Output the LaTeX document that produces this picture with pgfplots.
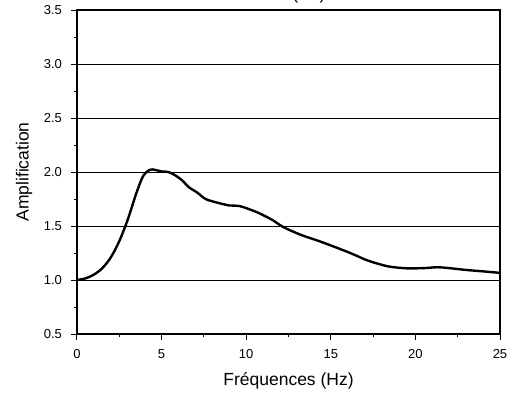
\documentclass[border=0pt]{standalone}
\usepackage{fontspec}
\setmainfont{Liberation Sans}
\usepackage{pgfplots}
\pgfplotsset{compat=1.18}
\begin{document}
\begin{tikzpicture}
\begin{axis}[
  at={(0,0)}, anchor=south west,
  scale only axis, width=423pt, height=324pt,
  xmin=0, xmax=25, ymin=0.5, ymax=3.5,
  xtick={0,5,...,25}, ytick={0.5,1.0,...,3.5},
  minor x tick num=1, minor y tick num=1,
  xtick pos=lower, ytick pos=left,
  tick align=outside,
  major tick length=6pt, minor tick length=3pt,
  every tick/.style={black, line width=1pt},
  axis line style={line width=1.2pt},
  ymajorgrids, grid style={black, line width=0.8pt},
  /pgf/number format/assume math mode=true,
  tick label style={font=\fontsize{13}{15}\selectfont},
  yticklabel style={xshift=-5.5pt, /pgf/number format/.cd, fixed, fixed zerofill, precision=1},
  xticklabel style={yshift=-6pt},
  xlabel={Fréquences (Hz)},
  ylabel={Amplification},
  xlabel style={font=\fontsize{17.5}{20}\selectfont, at={(axis description cs:0.5,0)}, anchor=base, yshift=-51pt},
  ylabel style={font=\fontsize{17.5}{20}\selectfont, at={(axis description cs:0,0.5)}, anchor=center, yshift=53pt},
  title={Sol ferme (S2)},
  title style={at={(axis description cs:0.454,1)}, anchor=base, yshift=5pt, font=\fontsize{17.5}{20}\selectfont},
]
\addplot[black, line width=2.4pt, smooth, tension=0.5] coordinates {
(0,1.0) (0.5,1.015) (1.0,1.05) (1.5,1.11) (2.0,1.21) (2.5,1.36) (3.0,1.56)
(3.5,1.80) (3.9,1.96) (4.3,2.02) (4.6,2.02) (5.0,2.005) (5.4,2.0) (5.9,1.96)
(6.3,1.91) (6.6,1.86) (7.1,1.81) (7.6,1.75) (8.2,1.72) (9.0,1.69) (9.6,1.685)
(10.6,1.63) (11.5,1.56) (12.2,1.49) (13.2,1.42) (14.4,1.355) (15.5,1.29)
(16.3,1.24) (17.1,1.185) (17.8,1.15) (18.5,1.123) (19.5,1.108) (20.5,1.11)
(21.3,1.118) (22.0,1.11) (23.0,1.093) (24.0,1.08) (25.0,1.066)
};
\end{axis}
\pgfresetboundingbox
\useasboundingbox (-77pt,-60pt) rectangle (437pt,334pt);
\end{tikzpicture}
\end{document}
